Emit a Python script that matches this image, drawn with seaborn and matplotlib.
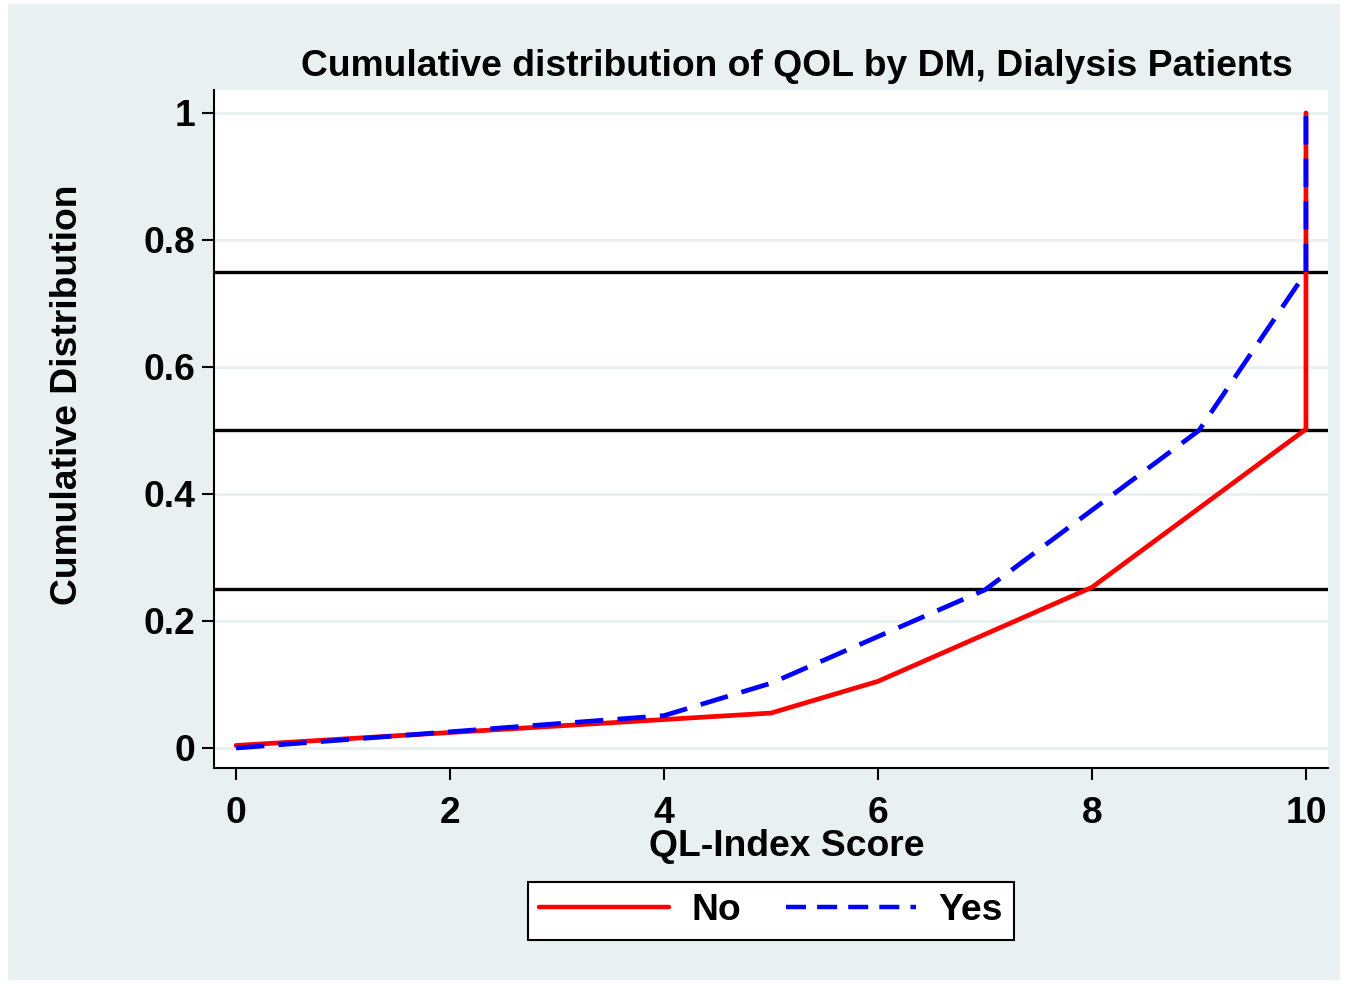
import pandas as pd
import matplotlib.pyplot as plt
import matplotlib.patches as mpatches
import seaborn as sns

# values
qol_no = [0, 5, 6, 8, 10, 10]
cdf_no = [0.004, 0.055, 0.105, 0.253, 0.502, 1.0]
qol_yes = [0, 4, 5, 7, 9, 10, 10]
cdf_yes = [0.0, 0.051, 0.102, 0.249, 0.50, 0.749, 1.0]
groups = ['No', 'Yes']
quartiles = [0.25, 0.5, 0.75]
x_ticks = [0, 2, 4, 6, 8, 10]
y_ticks = [0, 0.2, 0.4, 0.6, 0.8, 1]
y_tick_labels = ['0', '0.2', '0.4', '0.6', '0.8', '1']

FS = 26.8

sns.set_style('white')
plt.rcParams['font.family'] = ['Liberation Sans', 'DejaVu Sans']
plt.rcParams['font.weight'] = 'bold'
plt.rcParams['text.color'] = 'black'
plt.rcParams['xtick.color'] = 'black'
plt.rcParams['ytick.color'] = 'black'

df = pd.concat([
    pd.DataFrame({'QL-Index Score': qol_no, 'cdf': cdf_no, 'DM': groups[0]}),
    pd.DataFrame({'QL-Index Score': qol_yes, 'cdf': cdf_yes, 'DM': groups[1]}),
], ignore_index=True)

fig = plt.figure(figsize=(13.46, 9.84), dpi=100, facecolor='white')
# stata-like outer panel
fig.patches.append(mpatches.Rectangle((8 / 1346, 4 / 984), 1332 / 1346, 976 / 984,
                                      transform=fig.transFigure, facecolor='#E9F0F2',
                                      edgecolor='none', zorder=-5))
ax = fig.add_axes([214 / 1346, 1 - 768 / 984, 1114 / 1346, 678 / 984])
ax.set_facecolor('white')

for q in quartiles:
    ax.axhline(q, color='black', lw=2.4, zorder=1)

sns.lineplot(data=df, x='QL-Index Score', y='cdf', hue='DM', style='DM',
             palette={'No': '#FF0000', 'Yes': '#0000FF'},
             dashes={'No': '', 'Yes': (6, 3)},
             estimator=None, sort=False, lw=3.4, ax=ax, legend=False, zorder=3)

ax.set_xlim(-0.206, 10.206)
ax.set_ylim(-0.0315, 1.036)
ax.set_xticks(x_ticks)
ax.set_yticks(y_ticks)
ax.set_yticklabels(y_tick_labels)
ax.tick_params(axis='both', labelsize=FS, length=8.5, width=1.5, color='black',
               labelcolor='black', direction='out', left=True, bottom=True)
ax.tick_params(axis='x', pad=12)
ax.tick_params(axis='y', pad=5)
for lab in ax.get_xticklabels() + ax.get_yticklabels():
    lab.set_fontweight('bold')
ax.grid(axis='y', color='#E9F0F2', lw=2)
ax.grid(axis='x', visible=False)
for side in ['top', 'right']:
    ax.spines[side].set_visible(False)
for side in ['left', 'bottom']:
    ax.spines[side].set_color('black')
    ax.spines[side].set_linewidth(1.5)
ax.set_xlabel('')
ax.set_ylabel('')

fig.text(797 / 1346, 1 - 66 / 984, 'Cumulative distribution of QOL by DM, Dialysis Patients',
         ha='center', va='center', fontsize=FS, fontweight='bold')
fig.text(787 / 1346, 1 - 847 / 984, 'QL-Index Score', ha='center', va='center',
         fontsize=FS, fontweight='bold')
fig.text(68 / 1346, 1 - 395 / 984, 'Cumulative Distribution', ha='center', va='center',
         rotation=90, fontsize=FS, fontweight='bold')

handles = [plt.Line2D([], [], color='#FF0000', lw=3.2),
           plt.Line2D([], [], color='#0000FF', lw=3.2, dashes=(4.5, 2.5))]
leg = fig.legend(handles, groups, loc='center', bbox_to_anchor=(771 / 1346, 1 - 911 / 984),
                 ncol=2, fontsize=FS, frameon=True, fancybox=False, handlelength=3.5,
                 columnspacing=1.2, handletextpad=0.6, borderpad=0.3)
leg.get_frame().set_edgecolor('black')
leg.get_frame().set_facecolor('white')
leg.get_frame().set_alpha(1)
leg.get_frame().set_linewidth(1.5)
for t in leg.get_texts():
    t.set_fontweight('bold')

fig.savefig('out.png', dpi=100, facecolor='white')
